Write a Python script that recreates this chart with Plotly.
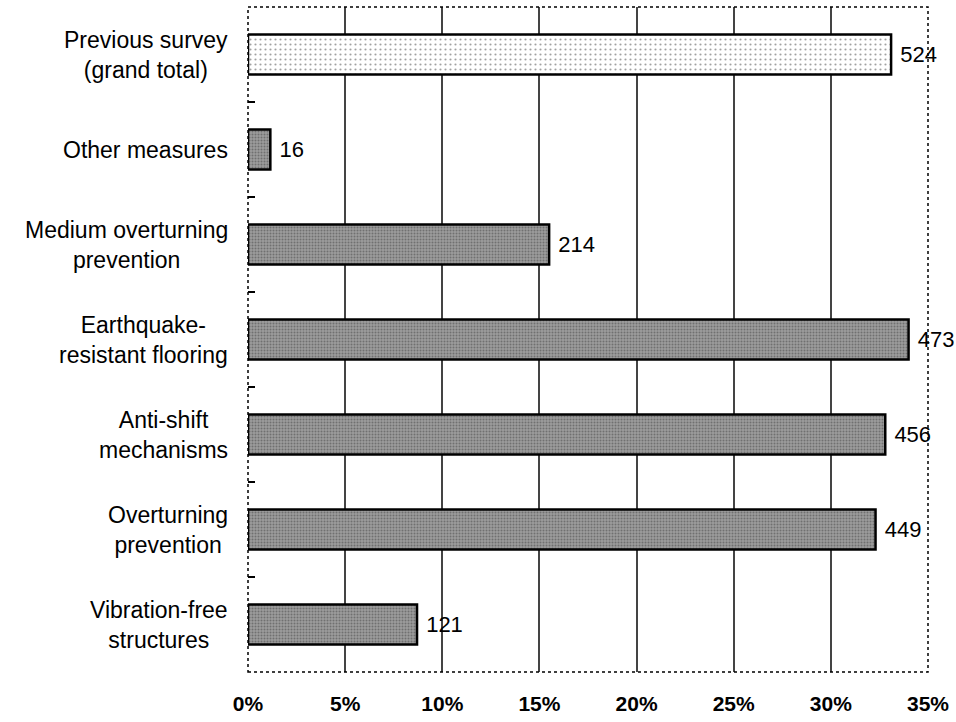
import plotly.graph_objects as go

categories = ["Vibration-free<br>structures", "Overturning<br>prevention", "Anti-shift<br>mechanisms",
              "Earthquake-<br>resistant flooring", "Medium overturning<br>prevention", "Other measures",
              "Previous survey<br>(grand total)"]
percent = [8.7, 32.3, 32.8, 34.0, 15.5, 1.15, 33.1]
counts = [121, 449, 456, 473, 214, 16, 524]
x_ticks = [0, 5, 10, 15, 20, 25, 30, 35]
x_tick_labels = ["0%", "5%", "10%", "15%", "20%", "25%", "30%", "35%"]

FONT = "Liberation Sans"

fill = ["#9c9c9c"] * 6 + ["#ffffff"]
fg = ["#4a4a4a"] * 6 + ["#c4c4c4"]
sol = [0.35] * 6 + [0.15]

fig = go.Figure()
fig.add_trace(go.Bar(
    y=categories, x=percent, orientation="h",
    width=0.42,
    text=["\u00a0" + str(c) for c in counts], textposition="outside",
    textfont=dict(family=FONT, size=22, color="black"),
    cliponaxis=False,
    marker=dict(
        color=fill,
        line=dict(color="black", width=2.5),
        pattern=dict(shape=".", fgcolor=fg, size=[3] * 6 + [5], solidity=sol, fillmode="overlay"),
    ),
    showlegend=False,
))

for c in categories:
    fig.add_annotation(x=0, xref="paper", y=c, yref="y", text=c, showarrow=False,
                       xanchor="right", xshift=-18, align="center",
                       font=dict(family=FONT, size=23, color="black"))

fig.add_shape(type="rect", xref="paper", yref="paper", x0=0, x1=1, y0=0, y1=1,
              line=dict(color="black", width=1.5, dash="dot"), layer="above")

fig.update_layout(
    width=956, height=722,
    margin=dict(l=248, r=24, t=7, b=50),
    paper_bgcolor="white", plot_bgcolor="white",
    bargap=0.58,
    font=dict(family=FONT, color="black"),
    xaxis=dict(range=[0, 35], tickvals=x_ticks, ticktext=x_tick_labels,
               showgrid=True, gridcolor="#444444", gridwidth=1.5,
               zeroline=False, showline=False, ticks="",
               ticklabelstandoff=17,
               tickfont=dict(family=FONT, size=21, color="black", weight="bold")),
    yaxis=dict(showticklabels=False, showgrid=False, zeroline=False,
               ticks="inside", ticklen=7, tickwidth=1.5, tickcolor="black",
               tickson="boundaries", showline=False),
)

fig.write_html("out.html")
